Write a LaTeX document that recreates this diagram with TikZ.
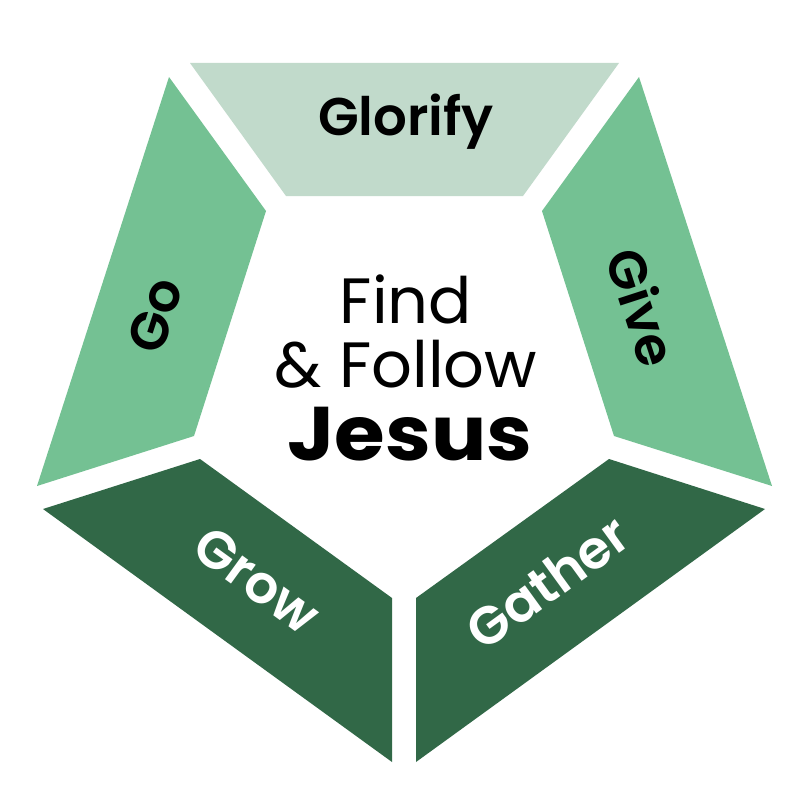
\documentclass[tikz,border=0pt]{standalone}
\usepackage{fontspec}
\setmainfont{Poppins}
\newfontfamily\semib{Poppins SemiBold}
\newfontfamily\boldw{Poppins Bold}[FakeStretch=1.08]
\definecolor{lightg}{HTML}{C1DACB}
\definecolor{midg}{HTML}{74C193}
\definecolor{darkg}{HTML}{316847}
\begin{document}
\begin{tikzpicture}[x=1pt,y=-1pt,
  seg/.style={draw=none},
  lab/.style={inner sep=0pt,anchor=center,text height=37pt,text depth=0pt,font=\semib\fontsize{53}{53}\selectfont},
  ctr/.style={inner sep=0pt,anchor=base}]
\useasboundingbox (0,0) rectangle (800,800);
\fill[white] (0,0) rectangle (800,800);
% segments
\fill[lightg,seg] (190,63) -- (619,63) -- (523,196) -- (286,196) -- cycle;
\fill[midg,seg] (639,77) -- (772,486) -- (614,436) -- (542,211) -- cycle;
\fill[darkg,seg] (765,509) -- (416,762) -- (416,598) -- (609,459) -- cycle;
\fill[darkg,seg] (43,509) -- (200,459) -- (392,598) -- (392,762) -- cycle;
\fill[midg,seg] (37,486) -- (169,77) -- (266,211) -- (194,436) -- cycle;
% labels
\node[lab] (glorify) at (406,117) {Glorify};
\node[lab,rotate=72] (go) at (155,315) {Go};
\node[lab,rotate=-72] (give) at (641,308) {Give};
\node[lab,rotate=-36,text=white] (grow) at (257,580) {Grow};
\node[lab,rotate=36,text=white] (gather) at (548,583) {Gather};
% center text
\node[ctr,font=\fontsize{64}{64}\selectfont] (find) at (406,323) {Find};
\node[ctr,font=\fontsize{64}{64}\selectfont] (follow) at (406,387) {\& Follow};
\node[ctr,font=\boldw\fontsize{76}{76}\selectfont] (jesus) at (410,460) {Jesus};
\end{tikzpicture}
\end{document}
